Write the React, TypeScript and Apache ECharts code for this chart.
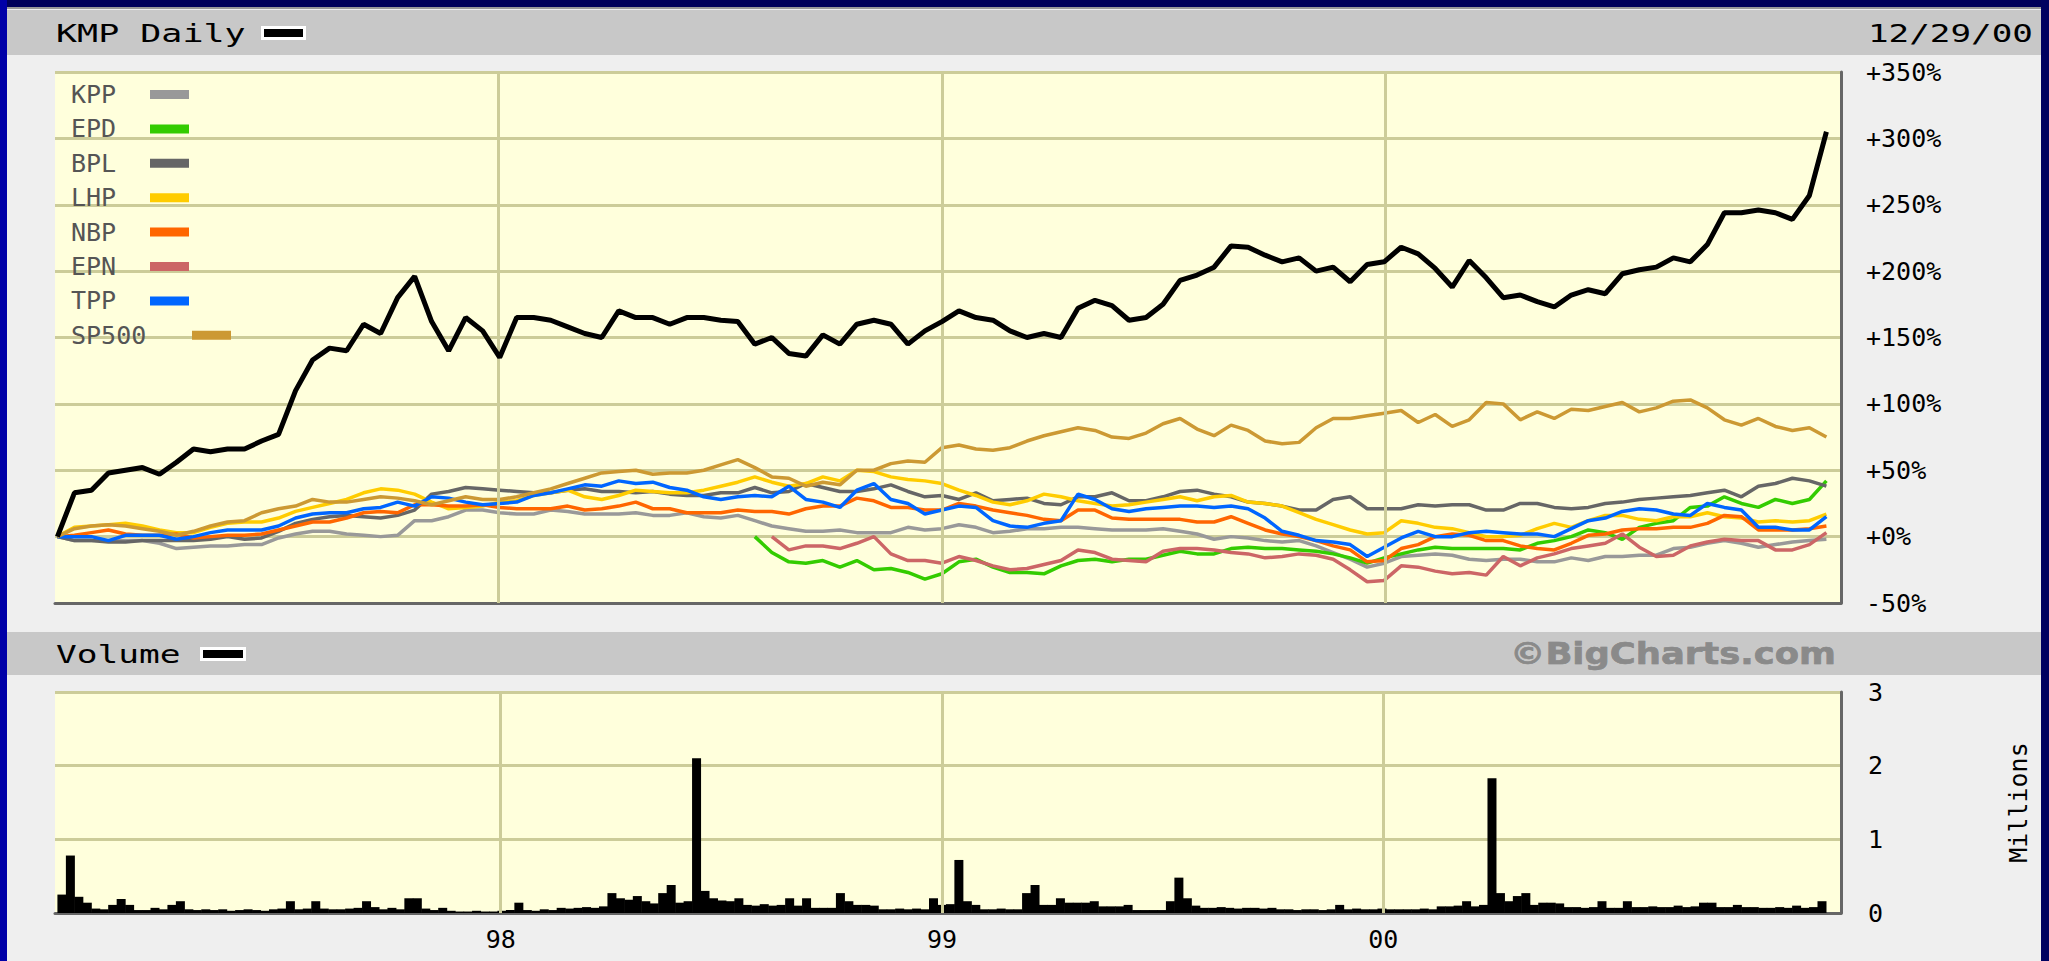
import React, { useEffect, useRef } from "react";
import * as echarts from "echarts";

const MONO = '"DejaVu Sans Mono", monospace';

const LEGEND_MAIN = ["KPP", "EPD", "BPL", "LHP", "NBP", "EPN", "TPP"];
const LEGEND_INDEX = ["SP500"];
const SERIES_COLORS: Record<string, string> = {
  KPP: "#999999",
  EPD: "#33CC00",
  BPL: "#666666",
  LHP: "#FFCC00",
  NBP: "#FF6600",
  EPN: "#CC6666",
  TPP: "#0066FF",
  SP500: "#CC9933",
  KMP: "#000000",
};

// % change, sampled every 2 weeks from 1997-01-03 to 2000-12-29 (105 points)
const KMP_PCT = [0, 33, 35, 48, 50, 52, 47, 56, 66, 64, 66, 66, 72, 77, 110, 133, 142, 140, 160, 153, 180, 196, 162, 140, 165, 155, 135, 165, 165, 163, 158, 153, 150, 170, 165, 165, 160, 165, 165, 163, 162, 145, 150, 138, 136, 152, 145, 160, 163, 160, 145, 155, 162, 170, 165, 163, 155, 150, 153, 150, 172, 178, 174, 163, 165, 175, 193, 197, 203, 219, 218, 212, 207, 210, 200, 203, 192, 205, 207, 218, 213, 202, 188, 208, 195, 180, 182, 177, 173, 182, 186, 183, 198, 201, 203, 210, 207, 220, 244, 244, 246, 244, 239, 257, 305];
const SP500_PCT = [0, 6, 8, 9, 8, 6, 4, 1, 4, 8, 11, 12, 18, 21, 23, 28, 26, 26, 28, 30, 29, 27, 24, 27, 30, 28, 28, 30, 33, 36, 40, 44, 48, 49, 50, 47, 48, 48, 50, 54, 58, 52, 45, 44, 38, 41, 39, 50, 50, 55, 57, 56, 67, 69, 66, 65, 67, 72, 76, 79, 82, 80, 75, 74, 78, 85, 89, 81, 76, 84, 80, 72, 70, 71, 82, 89, 89, 91, 93, 95, 86, 92, 83, 88, 101, 100, 88, 94, 89, 96, 95, 98, 101, 94, 97, 102, 103, 97, 88, 84, 89, 83, 80, 82, 75];
const KPP_PCT = [
  0, -3, -3, -3, -3, -3, -5, -9, -8, -7,
  -7, -6, -6, -1, 2, 4, 4, 2, 1, 0,
  1, 12, 12, 15, 20, 20, 18, 17, 17, 20,
  19, 17, 17, 17, 18, 16, 16, 18, 15, 14,
  16, 12, 8, 6, 4, 4, 5, 3, 3, 3,
  7, 5, 6, 9, 7, 3, 4, 6, 6, 7,
  7, 6, 5, 5, 5, 6, 4, 2, -2, 0,
  -1, -3, -4, -3, -7, -12, -17, -23, -20, -15,
  -14, -13, -14, -17, -18, -17, -17, -19, -19, -16,
  -18, -15, -15, -14, -14, -9, -8, -5, -3, -5,
  -8, -6, -4, -3, -2,
];
const BPL_PCT = [
  0, -3, -3, -4, -4, -3, -3, -3, -3, -2,
  0, -2, -1, 4, 10, 13, 15, 16, 15, 14,
  16, 20, 32, 34, 37, 36, 35, 34, 33, 33,
  35, 36, 34, 34, 33, 34, 32, 31, 31, 33,
  33, 37, 33, 34, 40, 37, 34, 34, 36, 39,
  34, 30, 31, 28, 33, 27, 28, 29, 25, 24,
  30, 30, 33, 27, 27, 30, 34, 35, 32, 30,
  26, 25, 23, 20, 20, 28, 30, 21, 21, 21,
  24, 23, 24, 24, 20, 20, 25, 25, 22, 21,
  22, 25, 26, 28, 29, 30, 31, 33, 35, 30,
  38, 40, 44, 42, 38,
];
const LHP_PCT = [
  0, 7, 8, 9, 10, 8, 5, 3, 3, 7,
  10, 11, 11, 14, 19, 22, 25, 28, 33, 36,
  35, 32, 26, 21, 22, 23, 26, 27, 31, 33,
  35, 30, 28, 31, 35, 34, 33, 33, 35, 38,
  41, 45, 41, 38, 40, 45, 42, 50, 49, 45,
  43, 42, 40, 35, 31, 26, 24, 27, 32, 30,
  27, 25, 23, 24, 26, 28, 30, 27, 30, 31,
  26, 25, 23, 18, 13, 9, 5, 2, 3, 12,
  10, 7, 6, 3, 0, 0, 1, 6, 10, 7,
  12, 16, 16, 13, 12, 15, 15, 18, 15, 14,
  11, 12, 11, 12, 17,
];
const NBP_PCT = [
  0, 1, 3, 5, 2, 1, 1, 2, -1, 0,
  1, 1, 2, 5, 8, 11, 11, 14, 18, 19,
  18, 24, 24, 23, 23, 24, 22, 21, 21, 21,
  23, 20, 21, 23, 26, 21, 21, 18, 18, 18,
  20, 19, 19, 17, 21, 23, 23, 29, 27, 22,
  22, 20, 20, 25, 23, 20, 18, 16, 13, 12,
  20, 20, 14, 13, 13, 13, 13, 11, 11, 15,
  10, 5, 2, 0, -3, -7, -10, -19, -18, -9,
  -6, 0, 2, 1, -3, -3, -7, -9, -10, -5,
  1, 2, 5, 6, 6, 7, 7, 10, 16, 15,
  5, 5, 5, 6, 8,
];
const TPP_PCT = [
  0, 0, 0, -3, 1, 1, 1, -2, 0, 3,
  5, 5, 5, 8, 14, 17, 18, 18, 21, 22,
  26, 23, 30, 29, 26, 24, 25, 26, 31, 33,
  36, 39, 38, 42, 40, 41, 37, 35, 30, 28,
  30, 31, 30, 38, 28, 26, 22, 35, 40, 28,
  25, 17, 20, 23, 22, 12, 8, 7, 10, 12,
  32, 28, 21, 19, 21, 22, 23, 23, 22, 23,
  21, 14, 4, 1, -3, -4, -6, -15, -8, -1,
  4, 0, 0, 3, 4, 3, 2, 2, 0, 6,
  12, 14, 19, 21, 20, 17, 16, 25, 22, 20,
  7, 7, 5, 5, 15,
];

// % change, every 2 weeks; EPD from sample 41, EPN from sample 42
const EPD_PCT = [0, -12, -19, -20, -18, -23, -18, -25, -24, -27, -32, -28, -19, -17, -23, -27, -27, -28, -22, -18, -17, -19, -17, -17, -14, -11, -13, -13, -9, -8, -9, -9, -10, -11, -13, -16, -20, -16, -13, -10, -8, -9, -9, -9, -9, -10, -5, -3, 0, 5, 3, -2, 7, 10, 12, 22, 23, 30, 25, 22, 28, 25, 28, 42];
const EPN_PCT = [0, -10, -7, -7, -9, -5, 0, -13, -18, -18, -20, -15, -18, -22, -25, -24, -21, -18, -10, -12, -17, -18, -19, -11, -9, -9, -10, -12, -13, -16, -15, -13, -14, -17, -25, -34, -33, -22, -23, -26, -28, -27, -29, -15, -22, -16, -13, -9, -7, -5, 2, -8, -15, -14, -7, -4, -2, -3, -3, -10, -10, -6, 3];

// KMP volume (millions), weekly from 1997-01-03 (209 points)
const VOLUME_M = [
  0.25, 0.78, 0.22, 0.14, 0.06, 0.05, 0.11, 0.19, 0.11, 0.04,
  0.04, 0.07, 0.05, 0.11, 0.16, 0.05, 0.04, 0.05, 0.04, 0.05,
  0.03, 0.04, 0.05, 0.04, 0.03, 0.05, 0.06, 0.16, 0.05, 0.06,
  0.16, 0.06, 0.05, 0.05, 0.06, 0.07, 0.16, 0.08, 0.05, 0.07,
  0.05, 0.2, 0.2, 0.06, 0.04, 0.07, 0.03, 0.02, 0.02, 0.03,
  0.02, 0.02, 0.03, 0.04, 0.14, 0.04, 0.03, 0.05, 0.04, 0.07,
  0.06, 0.07, 0.08, 0.07, 0.09, 0.27, 0.2, 0.18, 0.23, 0.16,
  0.13, 0.27, 0.38, 0.14, 0.16, 2.1, 0.3, 0.2, 0.17, 0.16,
  0.2, 0.11, 0.1, 0.12, 0.1, 0.11, 0.2, 0.1, 0.2, 0.07,
  0.07, 0.07, 0.27, 0.16, 0.11, 0.11, 0.1, 0.05, 0.05, 0.06,
  0.05, 0.06, 0.05, 0.2, 0.11, 0.12, 0.72, 0.16, 0.11, 0.05,
  0.05, 0.06, 0.05, 0.05, 0.27, 0.38, 0.11, 0.11, 0.2, 0.14,
  0.14, 0.14, 0.16, 0.09, 0.09, 0.09, 0.11, 0.04, 0.04, 0.04,
  0.04, 0.16, 0.48, 0.2, 0.1, 0.07, 0.07, 0.08, 0.07, 0.06,
  0.07, 0.07, 0.06, 0.07, 0.05, 0.05, 0.04, 0.05, 0.05, 0.04,
  0.05, 0.11, 0.05, 0.06, 0.05, 0.05, 0.06, 0.05, 0.05, 0.05,
  0.05, 0.06, 0.05, 0.09, 0.09, 0.1, 0.16, 0.09, 0.11, 1.83,
  0.27, 0.16, 0.23, 0.27, 0.11, 0.14, 0.14, 0.13, 0.08, 0.08,
  0.07, 0.08, 0.16, 0.07, 0.07, 0.16, 0.08, 0.08, 0.09, 0.08,
  0.08, 0.1, 0.08, 0.09, 0.14, 0.14, 0.08, 0.08, 0.11, 0.08,
  0.08, 0.07, 0.07, 0.08, 0.07, 0.1, 0.07, 0.08, 0.16,
];

const YEAR_LABELS: Record<number, string> = { 1998: "98", 1999: "99", 2000: "00" };
const YEAR_LINES = [1998, 1999, 2000];
const PCT_MIN = -50, PCT_MAX = 350, PCT_STEP = 50;
const VOL_MIN = 0, VOL_MAX = 3, VOL_STEP = 1;

const DAY = 86400000;
const START_UTC = Date.UTC(1997, 0, 3);
function seqDates(stepDays: number, count: number, firstIndex = 0): string[] {
  return Array.from({ length: count }, (_, k) =>
    new Date(START_UTC + (firstIndex + k) * stepDays * DAY).toISOString().slice(0, 10)
  );
}
function pair(dates: string[], vals: number[]) {
  return vals.map((v, k) => [dates[k], v]);
}

const X_MIN = new Date(1997, 0, 1).getTime();
const X_MAX = new Date(2001, 0, 10).getTime();

export default function App() {
  const ref = useRef<HTMLDivElement>(null);
  useEffect(() => {
    if (!ref.current) return;
    const chart = echarts.init(ref.current, undefined, { renderer: "svg" });

    const d14 = seqDates(14, KMP_PCT.length);
    const dEPD = seqDates(14, EPD_PCT.length, 41);
    const dEPN = seqDates(14, EPN_PCT.length, 42);
    const d7 = seqDates(7, VOLUME_M.length);

    const grid = "#CCCC99";
    const frame = "#666666";

    const line = (name: string, data: any[], width = 3.5, z = 3) => ({
      name,
      type: "line",
      xAxisIndex: 0,
      yAxisIndex: 0,
      data,
      showSymbol: false,
      symbol: "none",
      color: SERIES_COLORS[name],
      lineStyle: { color: SERIES_COLORS[name], width },
      silent: true,
      z,
    });

    const yearGridSeries = (axisIndex: number) => ({
      name: "yearGrid" + axisIndex,
      type: "line",
      xAxisIndex: axisIndex,
      yAxisIndex: axisIndex,
      data: [],
      silent: true,
      z: 1,
      markLine: {
        silent: true,
        symbol: ["none", "none"],
        label: { show: false },
        lineStyle: { color: grid, width: 3, type: "solid" },
        emphasis: { disabled: true },
        data: YEAR_LINES.map((y) => ({ xAxis: new Date(y, 0, 1).getTime() })),
      },
    });

    const yearLabel = (value: number) => {
      const d = new Date(value);
      if (d.getMonth() === 0 && d.getDate() === 1 && YEAR_LABELS[d.getFullYear()]) {
        return YEAR_LABELS[d.getFullYear()];
      }
      return "";
    };

    const xAxisBase = {
      type: "time",
      min: X_MIN,
      max: X_MAX,
      splitNumber: 4,
      minInterval: 365 * DAY,
      axisTick: { show: false },
      axisLine: { show: true, onZero: false, lineStyle: { color: frame, width: 3 } },
      splitLine: { show: false },
    };

    const legendText = (width: number) => ({
      fontFamily: MONO,
      fontSize: 25,
      color: "#555555",
      lineHeight: 24,
      rich: {
        t: { width, align: "left", fontFamily: MONO, fontSize: 25, color: "#555555", lineHeight: 24 },
      },
    });
    const legendBase = {
      orient: "vertical",
      left: 71,
      padding: 0,
      itemGap: 9.4,
      itemWidth: 39,
      itemHeight: 9,
      icon: "rect",
      align: "right",
      selectedMode: false,
      formatter: (name: string) => `{t|${name}}`,
    };

    const option: any = {
      animation: false,
      backgroundColor: "#EFEFEF",
      grid: [
        { left: 55, right: 208, top: 72, height: 531, show: true, backgroundColor: "#FFFFDC", borderWidth: 0, outerBoundsMode: "none" },
        { left: 55, right: 208, top: 692, height: 221, show: true, backgroundColor: "#FFFFDC", borderWidth: 0, outerBoundsMode: "none" },
      ],
      legend: [
        { ...legendBase, data: LEGEND_MAIN, top: 82, textStyle: legendText(74) },
        { ...legendBase, data: LEGEND_INDEX, top: 82 + 7 * 34.4, textStyle: legendText(116) },
      ],
      xAxis: [
        { ...xAxisBase, gridIndex: 0, axisLabel: { show: false } },
        {
          ...xAxisBase,
          gridIndex: 1,
          axisLabel: { show: true, margin: 14, fontFamily: MONO, fontSize: 25, color: "#000", formatter: yearLabel },
        },
      ],
      yAxis: [
        {
          type: "value",
          gridIndex: 0,
          position: "right",
          min: PCT_MIN,
          max: PCT_MAX,
          interval: PCT_STEP,
          axisLine: { show: true, onZero: false, lineStyle: { color: frame, width: 3 } },
          axisTick: { show: false },
          axisLabel: {
            margin: 25,
            fontFamily: MONO,
            fontSize: 25,
            color: "#000",
            formatter: (v: number) => (v >= 0 ? "+" : "") + v + "%",
          },
          splitLine: { show: true, lineStyle: { color: grid, width: 3 } },
        },
        {
          type: "value",
          gridIndex: 1,
          position: "right",
          min: VOL_MIN,
          max: VOL_MAX,
          interval: VOL_STEP,
          name: "Millions",
          nameLocation: "middle",
          nameRotate: 90,
          nameGap: 165,
          nameTextStyle: { fontFamily: MONO, fontSize: 25, color: "#000" },
          axisLine: { show: true, onZero: false, lineStyle: { color: frame, width: 3 } },
          axisTick: { show: false },
          axisLabel: { margin: 27, fontFamily: MONO, fontSize: 25, color: "#000" },
          splitLine: { show: true, lineStyle: { color: grid, width: 3 } },
        },
      ],
      graphic: [
        { type: "rect", silent: true, z: -10, shape: { x: 0, y: 0, width: 2049, height: 7 }, style: { fill: "#00005A" } },
        { type: "rect", silent: true, z: -10, shape: { x: 0, y: 0, width: 7, height: 961 }, style: { fill: "#0000A8" } },
        { type: "rect", silent: true, z: -10, shape: { x: 2041, y: 0, width: 8, height: 961 }, style: { fill: "#000060" } },
        { type: "rect", silent: true, z: -10, shape: { x: 7, y: 7, width: 2034, height: 2 }, style: { fill: "#999999" } },
        { type: "rect", silent: true, z: -10, shape: { x: 7, y: 10, width: 2034, height: 45 }, style: { fill: "#C8C8C8" } },
        { type: "rect", silent: true, z: -10, shape: { x: 7, y: 632, width: 2034, height: 43 }, style: { fill: "#C8C8C8" } },
        {
          type: "text", silent: true, x: 56, y: 33, scaleX: 1.4,
          style: { text: "KMP Daily", fill: "#000", font: `25px ${MONO}`, verticalAlign: "middle", textVerticalAlign: "middle" },
        },
        { type: "rect", silent: true, shape: { x: 261, y: 26, width: 45, height: 14 }, style: { fill: "#FFFFFF" } },
        { type: "rect", silent: true, shape: { x: 264, y: 29, width: 39, height: 8 }, style: { fill: "#000000" } },
        {
          type: "text", silent: true, x: 1868, y: 33, scaleX: 1.37,
          style: { text: "12/29/00", fill: "#000", font: `25px ${MONO}`, verticalAlign: "middle", textVerticalAlign: "middle" },
        },
        {
          type: "text", silent: true, x: 56, y: 654, scaleX: 1.38,
          style: { text: "Volume", fill: "#000", font: `25px ${MONO}`, verticalAlign: "middle", textVerticalAlign: "middle" },
        },
        { type: "rect", silent: true, shape: { x: 200, y: 647, width: 46, height: 14 }, style: { fill: "#FFFFFF" } },
        { type: "rect", silent: true, shape: { x: 203, y: 650, width: 40, height: 8 }, style: { fill: "#000000" } },
        {
          type: "text", silent: true, x: 1510, y: 654, scaleX: 1.18,
          style: {
            text: "©BigCharts.com", fill: "#8A8A8A", font: 'bold 30px "DejaVu Sans", sans-serif',
            verticalAlign: "middle", textVerticalAlign: "middle", stroke: "#777777", lineWidth: 0.5,
          },
        },
      ],
      series: [
        yearGridSeries(0),
        yearGridSeries(1),
        line("KPP", pair(d14, KPP_PCT)),
        line("EPD", pair(dEPD, EPD_PCT)),
        line("BPL", pair(d14, BPL_PCT)),
        line("LHP", pair(d14, LHP_PCT)),
        line("NBP", pair(d14, NBP_PCT)),
        line("EPN", pair(dEPN, EPN_PCT)),
        line("TPP", pair(d14, TPP_PCT)),
        line("SP500", pair(d14, SP500_PCT)),
        line("KMP", pair(d14, KMP_PCT), 5, 5),
        {
          name: "Volume",
          type: "bar",
          xAxisIndex: 1,
          yAxisIndex: 1,
          data: pair(d7, VOLUME_M),
          barWidth: 9,
          color: "#000",
          itemStyle: { color: "#000" },
          silent: true,
          z: 3,
        },
      ],
    };

    chart.setOption(option);
    return () => chart.dispose();
  }, []);

  return <div ref={ref} style={{ position: "absolute", left: 0, top: 0, width: 2049, height: 961 }} />;
}
